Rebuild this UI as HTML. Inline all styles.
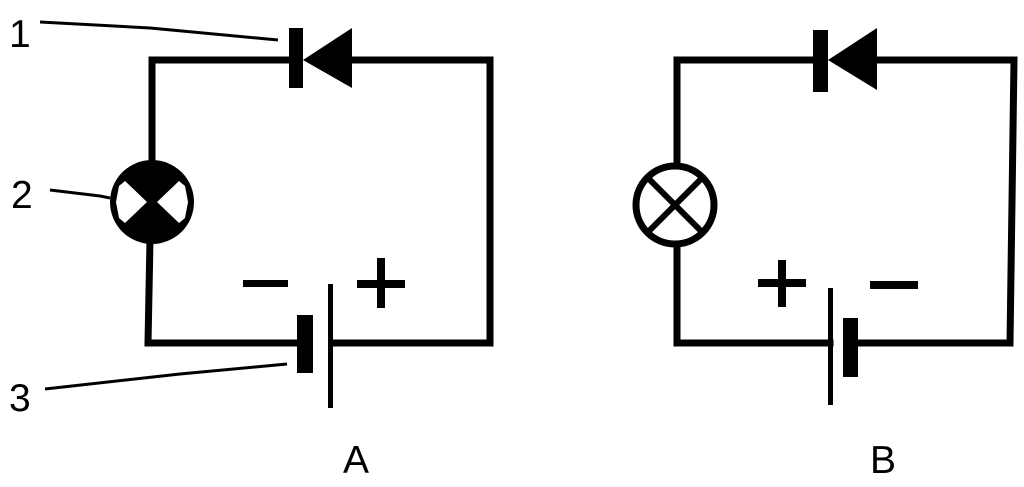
<!DOCTYPE html>
<html><head><style>
html,body{margin:0;padding:0;background:#fff;}
svg{display:block;}
text{font-family:"Liberation Sans",sans-serif;fill:#000;}
</style></head><body>
<svg width="1024" height="487" viewBox="0 0 1024 487" xmlns="http://www.w3.org/2000/svg">
<g stroke="#000" stroke-width="7" fill="none" stroke-linecap="square">
 <polyline points="152,162 152,60 296,60"/>
 <polyline points="350,60 490,60 490,343 332,343"/>
 <polyline points="300,343 148,343 150,240"/>
</g>
<circle cx="152" cy="202" r="42" fill="#000"/>
<polygon points="119,186 125,181 147,202 125,223 119,218 116,202" fill="#fff"/>
<polygon points="185,186 179,181 157,202 179,223 185,218 188,202" fill="#fff"/>
<rect x="289" y="28" width="14" height="60" fill="#000"/>
<polygon points="303,60 352,28 352,88" fill="#000"/>
<rect x="297" y="315" width="16" height="58" fill="#000"/>
<rect x="328" y="284" width="5" height="124" fill="#000"/>
<rect x="243" y="280" width="45" height="7" fill="#000"/>
<rect x="357" y="280" width="48" height="8" fill="#000"/>
<rect x="377" y="258" width="8" height="50" fill="#000"/>
<g stroke="#000" stroke-width="3" fill="none">
 <path d="M40,22 L150,28 L278,40"/>
 <path d="M50,190 L100,196 L110,198"/>
 <path d="M45,389 L180,374 L287,364"/>
</g>
<text x="9" y="47" font-size="39">1</text>
<text x="11" y="208" font-size="39">2</text>
<text x="9" y="411" font-size="39">3</text>
<text x="343" y="473" font-size="39">A</text>
<g stroke="#000" stroke-width="7" fill="none" stroke-linecap="square">
 <polyline points="677,163 677,60 815,60"/>
 <polyline points="875,60 1014,60 1010,343 858,343"/>
 <polyline points="830,343 677,343 677,247"/>
</g>
<circle cx="675" cy="205" r="39" fill="none" stroke="#000" stroke-width="7"/>
<g stroke="#000" stroke-width="6">
 <line x1="649" y1="179" x2="701" y2="231"/>
 <line x1="701" y1="179" x2="649" y2="231"/>
</g>
<rect x="813" y="30" width="15" height="62" fill="#000"/>
<polygon points="828,60 877,28 877,90" fill="#000"/>
<rect x="828" y="288" width="5" height="117" fill="#000"/>
<rect x="843" y="318" width="15" height="59" fill="#000"/>
<rect x="758" y="279" width="48" height="8" fill="#000"/>
<rect x="778" y="260" width="8" height="47" fill="#000"/>
<rect x="870" y="281" width="48" height="8" fill="#000"/>
<text x="870" y="473" font-size="39">B</text>
</svg>
</body></html>
